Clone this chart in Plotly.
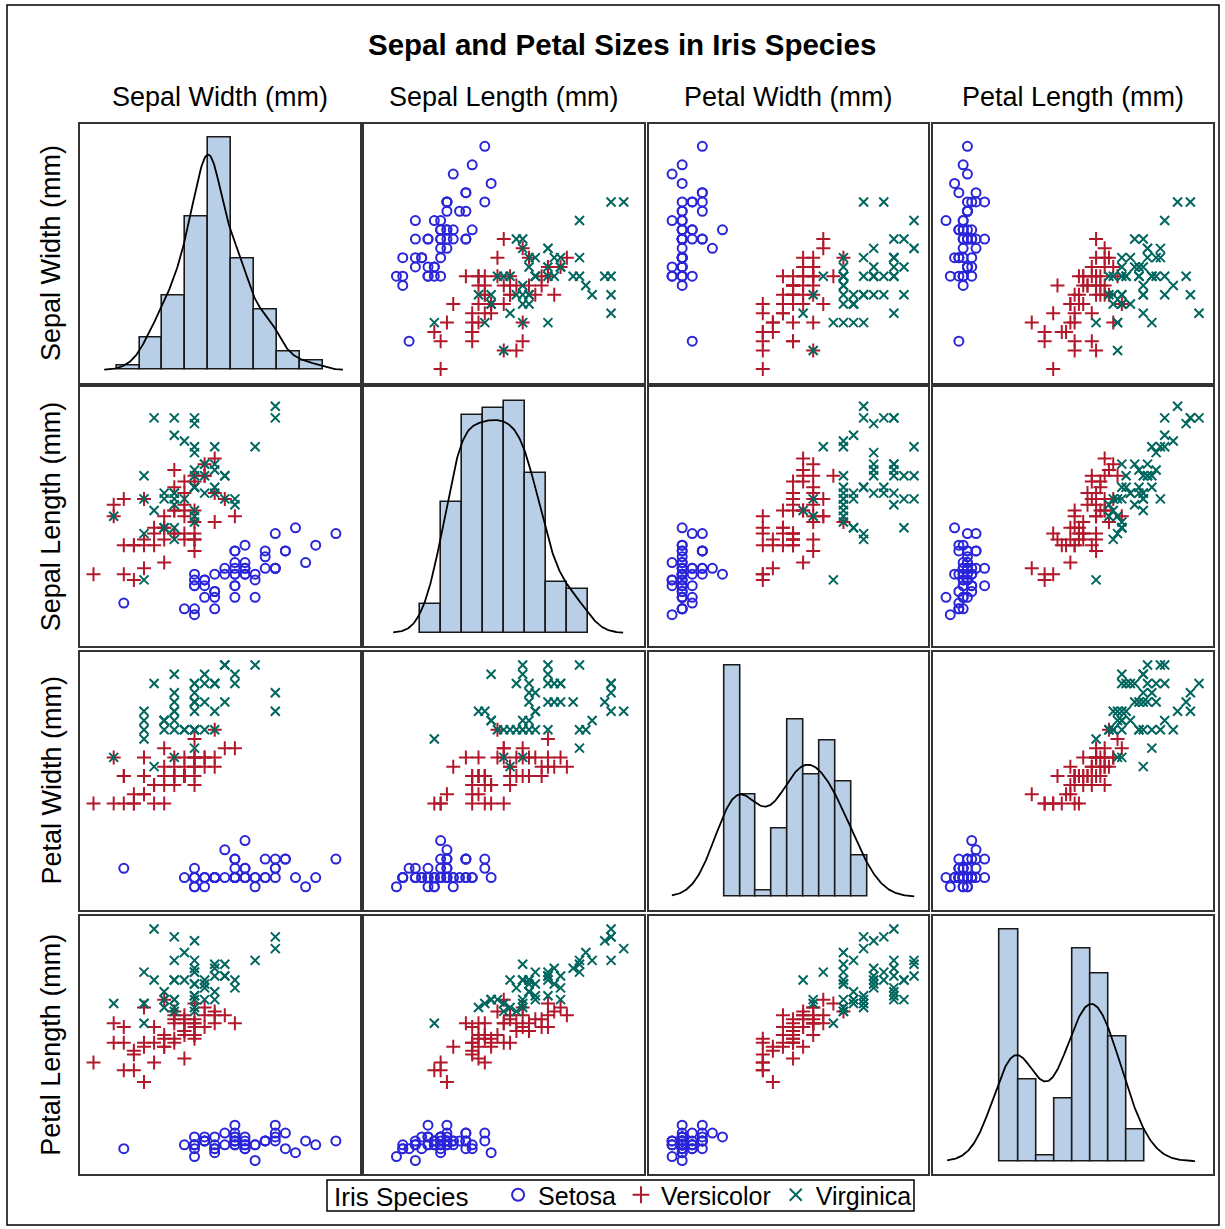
import numpy as np
import plotly.graph_objects as go

# Fisher's iris measurements, in millimetres
setosa_sepal_length = [51, 49, 47, 46, 50, 54, 46, 50, 44, 49, 54, 48, 48, 43, 58, 57, 54, 51, 57, 51,
                       54, 51, 46, 51, 48, 50, 50, 52, 52, 47, 48, 54, 52, 55, 49, 50, 55, 49, 44, 51,
                       50, 45, 44, 50, 51, 48, 51, 46, 53, 50]
setosa_sepal_width = [35, 30, 32, 31, 36, 39, 34, 34, 29, 31, 37, 34, 30, 30, 40, 44, 39, 35, 38, 38,
                      34, 37, 36, 33, 34, 30, 34, 35, 34, 32, 31, 34, 41, 42, 31, 32, 35, 36, 30, 34,
                      35, 23, 32, 35, 38, 30, 38, 32, 37, 33]
setosa_petal_length = [14, 14, 13, 15, 14, 17, 14, 15, 14, 15, 15, 16, 14, 11, 12, 15, 13, 14, 17, 15,
                       17, 15, 10, 17, 19, 16, 16, 15, 14, 16, 16, 15, 15, 14, 15, 12, 13, 14, 13, 15,
                       13, 13, 13, 16, 19, 14, 16, 14, 15, 14]
setosa_petal_width = [2, 2, 2, 2, 2, 4, 3, 2, 2, 1, 2, 2, 1, 1, 2, 4, 4, 3, 3, 3,
                      2, 4, 2, 5, 2, 2, 4, 2, 2, 2, 2, 4, 1, 2, 2, 2, 2, 1, 2, 2,
                      3, 3, 2, 6, 4, 3, 2, 2, 2, 2]

versicolor_sepal_length = [70, 64, 69, 55, 65, 57, 63, 49, 66, 52, 50, 59, 60, 61, 56, 67, 56, 58, 62, 56,
                           59, 61, 63, 61, 64, 66, 68, 67, 60, 57, 55, 55, 58, 60, 54, 60, 67, 63, 56, 55,
                           55, 61, 58, 50, 56, 57, 57, 62, 51, 57]
versicolor_sepal_width = [32, 32, 31, 23, 28, 28, 33, 24, 29, 27, 20, 30, 22, 29, 29, 31, 30, 27, 22, 25,
                          32, 28, 25, 28, 29, 30, 28, 30, 29, 26, 24, 24, 27, 27, 30, 34, 31, 23, 30, 25,
                          26, 30, 26, 23, 27, 30, 29, 29, 25, 28]
versicolor_petal_length = [47, 45, 49, 40, 46, 45, 47, 33, 46, 39, 35, 42, 40, 47, 36, 44, 45, 41, 45, 39,
                           48, 40, 49, 47, 43, 44, 48, 50, 45, 35, 38, 37, 39, 51, 45, 45, 47, 44, 41, 40,
                           44, 46, 40, 33, 42, 42, 42, 43, 30, 41]
versicolor_petal_width = [14, 15, 15, 13, 15, 13, 16, 10, 13, 14, 10, 15, 10, 14, 13, 14, 15, 10, 15, 11,
                          18, 13, 15, 12, 13, 14, 14, 17, 15, 10, 11, 10, 12, 16, 15, 16, 15, 13, 13, 13,
                          12, 14, 12, 10, 13, 12, 13, 13, 11, 13]

virginica_sepal_length = [63, 58, 71, 63, 65, 76, 49, 73, 67, 72, 65, 64, 68, 57, 58, 64, 65, 77, 77, 60,
                          69, 56, 77, 63, 67, 72, 62, 61, 64, 72, 74, 79, 64, 63, 61, 77, 63, 64, 60, 69,
                          67, 69, 58, 68, 67, 67, 63, 65, 62, 59]
virginica_sepal_width = [33, 27, 30, 29, 30, 30, 25, 29, 25, 36, 32, 27, 30, 25, 28, 32, 30, 38, 26, 22,
                         32, 28, 28, 27, 33, 32, 28, 30, 28, 30, 28, 38, 28, 28, 26, 30, 34, 31, 30, 31,
                         31, 31, 27, 32, 33, 30, 25, 30, 34, 30]
virginica_petal_length = [60, 51, 59, 56, 58, 66, 45, 63, 58, 61, 51, 53, 55, 50, 51, 53, 55, 67, 69, 50,
                          57, 49, 67, 49, 57, 60, 48, 49, 56, 58, 61, 64, 56, 51, 56, 61, 56, 55, 48, 54,
                          56, 51, 51, 59, 57, 52, 50, 52, 54, 51]
virginica_petal_width = [25, 19, 21, 18, 22, 21, 17, 18, 18, 25, 20, 19, 21, 20, 24, 23, 18, 22, 23, 15,
                         23, 20, 20, 18, 21, 18, 18, 18, 21, 16, 19, 20, 22, 15, 14, 23, 24, 18, 18, 21,
                         24, 23, 19, 23, 25, 23, 19, 20, 23, 18]

# matrix variables, in row/column order
variable_labels = ["Sepal Width (mm)", "Sepal Length (mm)", "Petal Width (mm)", "Petal Length (mm)"]
species_names = ["Setosa", "Versicolor", "Virginica"]
species_values = [
    [setosa_sepal_width, setosa_sepal_length, setosa_petal_width, setosa_petal_length],
    [versicolor_sepal_width, versicolor_sepal_length, versicolor_petal_width, versicolor_petal_length],
    [virginica_sepal_width, virginica_sepal_length, virginica_petal_width, virginica_petal_length],
]

# histogram binning for the diagonal cells (first edge, bin width, number of bins)
hist_start = [18, 40, 0, 8]
hist_width = [3, 5, 3, 8]
hist_count = [9, 8, 9, 8]

# ---- styling ----
W, H = 1225, 1229
FONT = "Arial, Liberation Sans, sans-serif"
COLORS = ["#2A25D9", "#B2182B", "#01665E"]
SYMBOLS = ["circle-open", "cross-thin-open", "x-thin-open"]
SIZES = [9, 10, 9]
BAR_FILL = "#B9CFE7"
FRAME = "#333333"

COL_PX = [(80, 359.5), (364, 643.5), (648.5, 927.5), (932.5, 1212.5)]
ROW_PX = [(123.5, 382.5), (387, 645.5), (651.5, 909.5), (915.5, 1174)]
SCATTER_LIMITS = [(20, 45), (40, 80), (0, 25), (10, 69)]
HIST_XRANGE = [(13.2, 49.8), (26.6, 93.3), (-14.3, 38.4), (-21.9, 102.2)]
OFFSET_PX = 13.5


def padded(lo, hi, span_px, off=OFFSET_PX):
    pad = off * (hi - lo) / (span_px - 2 * off)
    return [lo - pad, hi + pad]


def kernel_density(values, binw):
    v = np.asarray(values, dtype=float)
    q1, q3 = np.percentile(v, [25, 75])
    h = (q3 - q1) / 1.34 * len(v) ** -0.2
    grid = np.linspace(v.min() - 2.65 * h, v.max() + 2.65 * h, 300)
    dens = np.exp(-0.5 * ((grid[:, None] - v[None, :]) / h) ** 2).sum(axis=1)
    dens /= len(v) * h * np.sqrt(2 * np.pi)
    return grid, dens * binw * 100.0


fig = go.Figure()
layout = {}

for r in range(4):
    for c in range(4):
        k = r * 4 + c + 1
        xa = "x" if k == 1 else f"x{k}"
        ya = "y" if k == 1 else f"y{k}"
        x0, x1 = COL_PX[c]
        yt, yb = ROW_PX[r]
        axis_common = dict(showgrid=False, zeroline=False, showticklabels=False, ticks="",
                           showline=True, mirror=True, linecolor=FRAME, linewidth=2)
        if r == c:
            all_vals = np.concatenate([np.asarray(sp[c]) for sp in species_values])
            edges = hist_start[c] + hist_width[c] * np.arange(hist_count[c] + 1)
            counts, _ = np.histogram(all_vals, bins=edges)
            pct = counts / len(all_vals) * 100.0
            centers = (edges[:-1] + edges[1:]) / 2
            fig.add_trace(go.Bar(x=centers, y=pct, width=hist_width[c], xaxis=xa, yaxis=ya,
                                 marker=dict(color=BAR_FILL, line=dict(color="#1a1a1a", width=1.6)),
                                 showlegend=False, hoverinfo="skip"))
            gx, gy = kernel_density(all_vals, hist_width[c])
            fig.add_trace(go.Scatter(x=gx, y=gy, mode="lines", xaxis=xa, yaxis=ya,
                                     line=dict(color="black", width=1.8),
                                     showlegend=False, hoverinfo="skip"))
            ymax = pct.max()
            hpx = yb - yt
            scale = ymax / (hpx - 12.7 - 14.0)
            xr = list(HIST_XRANGE[c])
            yr = [-12.7 * scale, ymax + 14.0 * scale]
        else:
            for s in range(3):
                fig.add_trace(go.Scatter(
                    x=species_values[s][c], y=species_values[s][r], mode="markers",
                    xaxis=xa, yaxis=ya, name=species_names[s],
                    legendgroup=species_names[s], showlegend=(k == 2),
                    marker=dict(symbol=SYMBOLS[s], size=SIZES[s], color=COLORS[s],
                                line=dict(color=COLORS[s], width=2))))
            xr = padded(*SCATTER_LIMITS[c], x1 - x0)
            yr = padded(*SCATTER_LIMITS[r], yb - yt)
        layout["xaxis" if k == 1 else f"xaxis{k}"] = dict(
            domain=[x0 / W, x1 / W], range=xr, anchor=ya, **axis_common)
        layout["yaxis" if k == 1 else f"yaxis{k}"] = dict(
            domain=[1 - yb / H, 1 - yt / H], range=yr, anchor=xa, **axis_common)

annotations = [dict(text="<b>Sepal and Petal Sizes in Iris Species</b>", x=621.5 / W, y=1 - 45 / H,
                    xref="paper", yref="paper", showarrow=False, xanchor="center", yanchor="middle",
                    font=dict(size=29.5, family=FONT, color="black"))]
for i, lab in enumerate(variable_labels):
    cx = (COL_PX[i][0] + COL_PX[i][1]) / 2
    annotations.append(dict(text=lab, x=cx / W, y=1 - 97 / H, xref="paper", yref="paper",
                            showarrow=False, xanchor="center", yanchor="middle",
                            font=dict(size=27, family=FONT, color="black")))
    cy = (ROW_PX[i][0] + ROW_PX[i][1]) / 2
    annotations.append(dict(text=lab, x=51 / W, y=1 - cy / H, xref="paper", yref="paper",
                            showarrow=False, xanchor="center", yanchor="middle", textangle=-90,
                            font=dict(size=27, family=FONT, color="black")))

shapes = [
    # outer frame of the graph
    dict(type="rect", xref="paper", yref="paper", x0=7 / W, x1=1219 / W,
         y0=1 - 1225 / H, y1=1 - 5 / H, line=dict(color="black", width=1.5)),
    # legend box
    dict(type="rect", xref="paper", yref="paper", x0=327 / W, x1=914 / W,
         y0=1 - 1211 / H, y1=1 - 1180 / H, line=dict(color="black", width=1.5)),
]

fig.update_layout(
    width=W, height=H, margin=dict(l=0, r=0, t=0, b=0),
    paper_bgcolor="white", plot_bgcolor="white",
    font=dict(family=FONT, color="black"),
    bargap=0, annotations=annotations, shapes=shapes,
    legend=dict(orientation="h", x=332 / W, xanchor="left", y=1 - 1195 / H, yanchor="middle",
                bordercolor="rgba(0,0,0,0)", borderwidth=0, bgcolor="rgba(0,0,0,0)",
                font=dict(size=25, family=FONT, color="black"),
                title=dict(text="Iris Species&nbsp;&nbsp;&nbsp;", side="left",
                           font=dict(size=26, family=FONT)),
                itemsizing="constant"),
    **layout,
)

fig.write_html("out.html")
